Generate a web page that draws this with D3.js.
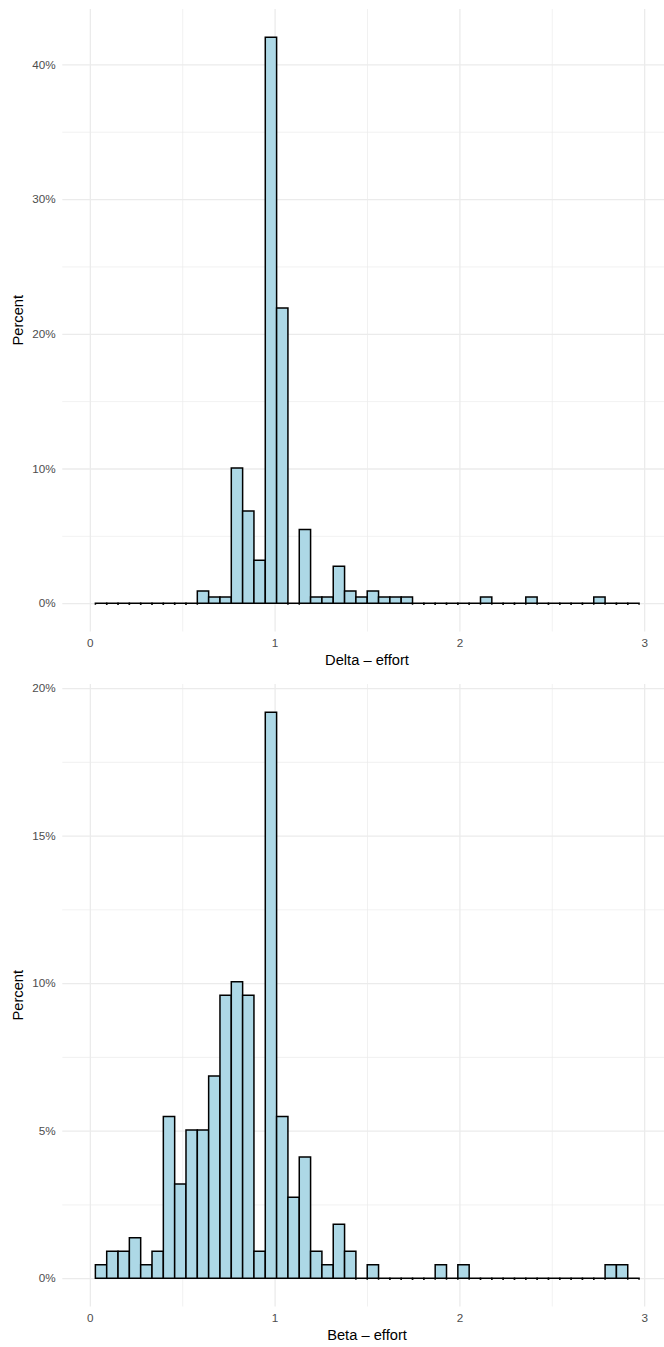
<!DOCTYPE html>
<html>
<head>
<meta charset="utf-8">
<script src="https://cdn.jsdelivr.net/npm/d3@7"></script>
<style>
    body { margin: 0; background: #ffffff; }
    text { font-family: "Liberation Sans", Arial, sans-serif; }
</style>
</head>
<body>
<div id="chart"></div>
<script>
// Bins (same grid for both histograms)
const binStart = 0.030;
const binWidth = 0.0613;
const sampleSize = 219;

// Counts per bin
const deltaCounts = [0, 0, 0, 0, 0, 0, 0, 0, 0, 2, 1, 1, 22, 15, 7, 92,
                     48, 0, 12, 1, 1, 6, 2, 1, 2, 1, 1, 1, 0, 0, 0, 0,
                     0, 0, 1, 0, 0, 0, 1, 0, 0, 0, 0, 0, 1, 0, 0, 0];
const betaCounts = [1, 2, 2, 3, 1, 2, 12, 7, 11, 11, 15, 21, 22, 21, 2, 42,
                    12, 6, 9, 2, 1, 4, 2, 0, 1, 0, 0, 0, 0, 0, 1, 0,
                    1, 0, 0, 0, 0, 0, 0, 0, 0, 0, 0, 0, 0, 1, 1, 0];

// Ticks and labels
const xTicks = [0, 1, 2, 3];
const xMinorTicks = [0.5, 1.5, 2.5];
const deltaYTicks = [0, 10, 20, 30, 40];
const deltaYMinor = [5, 15, 25, 35];
const betaYTicks = [0, 5, 10, 15, 20];
const betaYMinor = [2.5, 7.5, 12.5, 17.5];
const xTitles = ["Delta \u2013 effort", "Beta \u2013 effort"];
const yTitle = "Percent";

// Layout
const width = 664;
const height = 1347;
const panelHeight = 675;
const margin = {top: 9, bottom: 43.5, left: 62.3, right: 671.7};
const xDomain = [-0.149, 3.149];
const gridColor = "#EBEBEB";
const barFill = "#ADD8E6";

const svg = d3.select("#chart")
    .append("svg")
    .attr("width", width)
    .attr("height", height)
    .attr("viewBox", `0 0 ${width} ${height}`);

const xScale = d3.scaleLinear()
    .domain(xDomain)
    .range([margin.left, margin.right]);

const barPath = function(d, yScale) {
    const x0 = xScale(d.x0);
    const x1 = xScale(d.x1);
    const y0 = yScale(0);
    if (d.pct === 0) {
        // flat bin: baseline with small edge marks
        return `M${x0},${y0 + 1.5}V${y0}H${x1}V${y0 + 1.5}`;
    }
    const y1 = yScale(d.pct);
    return `M${x0},${y0}V${y1}H${x1}V${y0}Z`;
}

const drawPanel = function(counts, yTicks, yMinor, xTitle, index) {
    const top = index * panelHeight + margin.top;
    const bottom = (index + 1) * panelHeight - margin.bottom;
    const g = svg.append("g");

    const bins = counts.map((c, i) => ({
        x0: binStart + i * binWidth,
        x1: binStart + (i + 1) * binWidth,
        pct: c / sampleSize * 100
    }));
    const maxPct = d3.max(bins, d => d.pct);
    const yScale = d3.scaleLinear()
        .domain([-0.05 * maxPct, 1.05 * maxPct])
        .range([bottom, top]);

    // grid lines (minor then major)
    const grid = function(axis, values, size, w) {
        const ax = g.append("g")
            .call(axis.tickValues(values).tickSize(size).tickFormat(""));
        ax.select(".domain").remove();
        ax.selectAll("line").attr("stroke", gridColor).attr("stroke-width", w);
        return ax;
    }
    grid(d3.axisBottom(xScale), xMinorTicks, -(bottom - top), 0.7)
        .attr("transform", `translate(0,${bottom})`);
    grid(d3.axisLeft(yScale), yMinor, -(margin.right - margin.left), 0.7)
        .attr("transform", `translate(${margin.left},0)`);
    grid(d3.axisBottom(xScale), xTicks, -(bottom - top), 1.3)
        .attr("transform", `translate(0,${bottom})`);
    grid(d3.axisLeft(yScale), yTicks, -(margin.right - margin.left), 1.3)
        .attr("transform", `translate(${margin.left},0)`);

    // bars
    g.append("g")
        .selectAll("path")
        .data(bins)
        .join("path")
        .attr("d", d => barPath(d, yScale))
        .attr("fill", d => d.pct === 0 ? "none" : barFill)
        .attr("stroke", "#000000")
        .attr("stroke-width", 1.5);

    // tick labels
    const xAxis = g.append("g")
        .attr("transform", `translate(0,${bottom})`)
        .call(d3.axisBottom(xScale).tickValues(xTicks).tickSize(0).tickPadding(0)
            .tickFormat(d3.format("d")));
    xAxis.select(".domain").remove();
    xAxis.selectAll("text")
        .attr("y", 15.3)
        .attr("dy", null)
        .attr("fill", "#4D4D4D")
        .style("font-size", "11.7px")
        .style("font-family", "'Liberation Sans', Arial, sans-serif");

    const yAxis = g.append("g")
        .attr("transform", `translate(${margin.left},0)`)
        .call(d3.axisLeft(yScale).tickValues(yTicks).tickSize(0).tickPadding(6.6)
            .tickFormat(d => d + "%"));
    yAxis.select(".domain").remove();
    yAxis.selectAll("text")
        .attr("fill", "#4D4D4D")
        .style("font-size", "11.7px")
        .style("font-family", "'Liberation Sans', Arial, sans-serif");

    // axis titles
    g.append("text")
        .attr("x", xScale(1.5))
        .attr("y", bottom + 33.5)
        .attr("text-anchor", "middle")
        .attr("fill", "#000000")
        .style("font-size", "14.7px")
        .text(xTitle);
    g.append("text")
        .attr("transform", `translate(22.5,${(top + bottom) / 2}) rotate(-90)`)
        .attr("text-anchor", "middle")
        .attr("fill", "#000000")
        .style("font-size", "14.7px")
        .text(yTitle);
}

drawPanel(deltaCounts, deltaYTicks, deltaYMinor, xTitles[0], 0);
drawPanel(betaCounts, betaYTicks, betaYMinor, xTitles[1], 1);
</script>
</body>
</html>
